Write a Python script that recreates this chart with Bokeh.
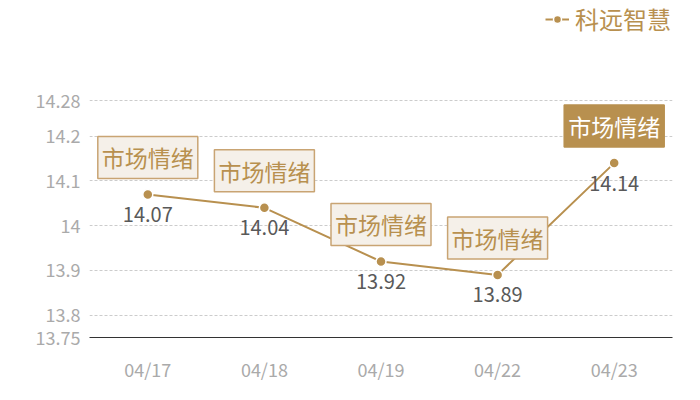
from bokeh.plotting import figure
from bokeh.models import ColumnDataSource, FixedTicker, Legend, LegendItem
from bokeh.core.properties import value
from bokeh.embed import file_html
from bokeh.resources import INLINE

dates = ["04/17", "04/18", "04/19", "04/22", "04/23"]
values = [14.07, 14.04, 13.92, 13.89, 14.14]
tags = ["市场情绪", "市场情绪", "市场情绪", "市场情绪", "市场情绪"]
highlight = [False, False, False, False, True]
y_ticks = [13.75, 13.8, 13.9, 14.0, 14.1, 14.2, 14.28]
y_tick_labels = ["13.75", "13.8", "13.9", "14", "14.1", "14.2", "14.28"]
series_name = "科远智慧"

BRONZE = "#b8904f"
FONT = "Noto Sans CJK SC"

# value axis spans 13.75..14.28 over 237px; frame extended upward to hold the legend
Y_MIN, Y_TOP_TICK = 13.75, 14.28
PLOT_H, FRAME_H = 237, 337
y_end = Y_MIN + (Y_TOP_TICK - Y_MIN) * FRAME_H / PLOT_H

src = ColumnDataSource(dict(x=dates, y=values, lab=[f"{v:.2f}" for v in values]))
src_tag = ColumnDataSource(dict(
    x=[d for d, h in zip(dates, highlight) if not h],
    y=[v for v, h in zip(values, highlight) if not h],
    t=[t for t, h in zip(tags, highlight) if not h]))
src_tag_hi = ColumnDataSource(dict(
    x=[d for d, h in zip(dates, highlight) if h],
    y=[v for v, h in zip(values, highlight) if h],
    t=[t for t, h in zip(tags, highlight) if h]))

p = figure(x_range=dates, y_range=(Y_MIN, y_end), frame_width=583, frame_height=FRAME_H,
           output_backend="svg", toolbar_location=None,
           min_border_left=89, min_border_right=12, min_border_top=0, min_border_bottom=47)
p.outline_line_color = None
p.background_fill_color = "white"
p.border_fill_color = "white"

# axes
p.yaxis.ticker = FixedTicker(ticks=y_ticks)
p.yaxis.major_label_overrides = {t: l for t, l in zip(y_ticks, y_tick_labels)}
p.yaxis.axis_line_color = None
p.yaxis.major_tick_line_color = None
p.yaxis.major_tick_out = 0
p.yaxis.minor_tick_line_color = None
p.yaxis.major_label_text_color = "#aaaaaa"
p.yaxis.major_label_text_font_size = "18px"
p.yaxis.major_label_text_font = FONT
p.yaxis.major_label_standoff = 9

p.xaxis.axis_line_color = "#333333"
p.xaxis.axis_line_width = 1
p.xaxis.major_tick_line_color = None
p.xaxis.major_tick_out = 0
p.xaxis.minor_tick_line_color = None
p.xaxis.major_label_text_color = "#aaaaaa"
p.xaxis.major_label_text_font_size = "18px"
p.xaxis.major_label_text_font = FONT
p.xaxis.major_label_standoff = 18

p.xgrid.grid_line_color = None
p.ygrid.ticker = FixedTicker(ticks=y_ticks[1:])
p.ygrid.grid_line_color = "#cccccc"
p.ygrid.grid_line_dash = "3 2"
p.ygrid.grid_line_width = 1

# series
ln = p.line("x", "y", source=src, line_color=BRONZE, line_width=2)
sc = p.scatter("x", "y", source=src, size=10, fill_color=BRONZE, line_color="white", line_width=1.5)

# value labels
p.text("x", "y", text="lab", source=src, text_align="center", text_baseline="middle",
       y_offset=20, text_color="#595959", text_font_size="20px", text_font=value(FONT))

# tag boxes
p.text("x", "y", text="t", source=src_tag, text_align="center", text_baseline="middle",
       y_offset=-37, text_color=BRONZE, text_font_size="23px", text_font=value(FONT),
       background_fill_color="#f5f0e9", border_line_color="#c9a473", border_line_width=1.5,
       padding=4)
p.text("x", "y", text="t", source=src_tag_hi, text_align="center", text_baseline="middle",
       y_offset=-37, text_color="white", text_font_size="23px", text_font=value(FONT),
       background_fill_color=BRONZE, border_line_color=BRONZE, border_line_width=1.5,
       padding=4)

legend = Legend(items=[LegendItem(label=series_name, renderers=[ln, sc])],
                location="top_right", orientation="horizontal",
                border_line_color=None, background_fill_alpha=0,
                padding=0, margin=1, glyph_width=24, glyph_height=20, label_standoff=6,
                label_text_font_size="24px", label_text_color=BRONZE, label_text_font=FONT)
p.add_layout(legend, "center")

open("out.html", "w").write(file_html(p, INLINE))
